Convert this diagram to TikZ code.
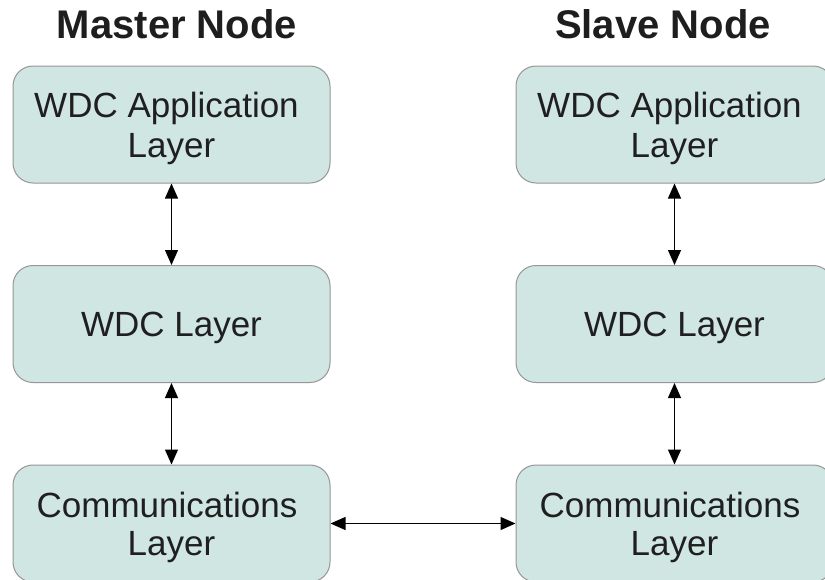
\documentclass[tikz,border=0pt]{standalone}
\usepackage{fontspec}
\setmainfont{Liberation Sans}
\usetikzlibrary{arrows.meta}
\definecolor{layerfill}{RGB}{208,230,226}
\definecolor{layeredge}{RGB}{150,150,150}
\definecolor{titletext}{RGB}{30,30,30}
\tikzset{
  layer/.style={draw=layeredge, line width=1pt, fill=layerfill, rounded corners=20pt,
    minimum width=317pt, minimum height=117pt, inner sep=0pt},
  caption/.style={anchor=base, inner sep=0pt, font=\fontsize{35}{39}\selectfont, text=black!88},
  heading/.style={font=\fontsize{40}{44}\bfseries\selectfont, text=titletext, anchor=base, inner sep=0pt},
  link/.style={line width=1.2pt, {Triangle[length=15pt,width=13pt]}-{Triangle[length=15pt,width=13pt]}}
}
\begin{document}
\begin{tikzpicture}[x=1pt,y=-1pt]
\useasboundingbox (0,0) rectangle (825,579);
\fill[white] (0,0) rectangle (825,579);
% column headings
\node[heading] (mtitle) at (177,38) {Master Node};
\node[heading] (stitle) at (663,38) {Slave Node};
% master stack
\node[layer] (mapp) at (171.5,124.5) {};
\node[layer] (mwdc) at (171.5,324) {};
\node[layer] (mcom) at (171.5,523.5) {};
% slave stack
\node[layer] (sapp) at (674.5,124.5) {};
\node[layer] (swdc) at (674.5,324) {};
\node[layer] (scom) at (674.5,523.5) {};
% layer captions
\foreach \s in {m,s}{
  \node[caption] (\s app-1) at ([xshift=-5pt,yshift=7.5pt]\s app.center) {WDC Application};
  \node[caption] (\s app-2) at ([yshift=-32.5pt]\s app.center) {Layer};
  \node[caption] (\s wdc-1) at ([yshift=-12pt]\s wdc.center) {WDC Layer};
  \node[caption] (\s com-1) at ([xshift=-4.5pt,yshift=6.5pt]\s com.center) {Communications};
  \node[caption] (\s com-2) at ([yshift=-31.5pt]\s com.center) {Layer};
}
% connections
\draw[link] (mapp) -- (mwdc);
\draw[link] (mwdc) -- (mcom);
\draw[link] (sapp) -- (swdc);
\draw[link] (swdc) -- (scom);
\draw[link] (mcom) -- (scom);
\end{tikzpicture}
\end{document}
